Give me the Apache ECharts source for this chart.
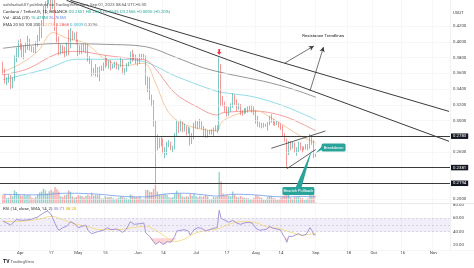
<!DOCTYPE html>
<html><head><meta charset="utf-8">
<script src="https://cdn.jsdelivr.net/npm/echarts@6/dist/echarts.min.js"></script>
<style>html,body{margin:0;padding:0;background:#fff}#c{width:474px;height:268px}</style>
</head><body><div id="c"></div><script>
// ---- time scale: one category per calendar day, Mar 22 .. Nov 9 2023 ----
const days = [];
for (let t = Date.UTC(2023, 2, 22); days.length < 233; t += 864e5) days.push(new Date(t).toISOString().slice(0, 10));

// time-axis labels
const tickLabels = {
  '2023-04-01': 'Apr', '2023-04-17': '17', '2023-05-01': 'May', '2023-05-15': '15',
  '2023-06-01': 'Jun', '2023-06-14': '14', '2023-07-01': 'Jul', '2023-07-17': '17',
  '2023-08-01': 'Aug', '2023-08-14': '14', '2023-09-01': 'Sep', '2023-09-18': '18',
  '2023-10-01': 'Oct', '2023-10-16': '16', '2023-11-01': 'Nov'
};
const priceTicks = [0.20, 0.22, 0.24, 0.26, 0.28, 0.30, 0.32, 0.34, 0.36, 0.38, 0.40, 0.42];
const rsiTicks = [20, 40, 60, 80];
const rsiBand = [60, 40];

// ADA/USDT daily candles: [date, open, close, low, high]
const candles = [
 ['2023-03-23',0.372,0.362,0.358,0.375],['2023-03-24',0.362,0.350,0.347,0.366],['2023-03-25',0.350,0.351,0.345,0.355],
 ['2023-03-26',0.351,0.356,0.348,0.359],['2023-03-27',0.356,0.345,0.340,0.358],['2023-03-28',0.345,0.352,0.341,0.355],
 ['2023-03-29',0.352,0.380,0.350,0.383],['2023-03-30',0.380,0.386,0.374,0.393],['2023-03-31',0.386,0.398,0.380,0.402],
 ['2023-04-01',0.398,0.395,0.390,0.404],['2023-04-02',0.395,0.384,0.380,0.398],['2023-04-03',0.384,0.392,0.378,0.396],
 ['2023-04-04',0.392,0.395,0.386,0.399],['2023-04-05',0.395,0.402,0.390,0.408],['2023-04-06',0.402,0.392,0.389,0.404],
 ['2023-04-07',0.392,0.391,0.387,0.395],['2023-04-08',0.391,0.389,0.386,0.394],['2023-04-09',0.389,0.398,0.386,0.401],
 ['2023-04-10',0.398,0.405,0.394,0.409],['2023-04-11',0.405,0.414,0.401,0.420],['2023-04-12',0.414,0.424,0.405,0.428],
 ['2023-04-13',0.424,0.442,0.420,0.446],['2023-04-14',0.442,0.447,0.436,0.452],['2023-04-15',0.447,0.452,0.443,0.456],
 ['2023-04-16',0.452,0.463,0.448,0.468],['2023-04-17',0.463,0.445,0.440,0.465],['2023-04-18',0.445,0.456,0.442,0.460],
 ['2023-04-19',0.456,0.418,0.414,0.458],['2023-04-20',0.418,0.403,0.399,0.422],['2023-04-21',0.403,0.387,0.383,0.407],
 ['2023-04-22',0.387,0.394,0.384,0.397],['2023-04-23',0.394,0.389,0.385,0.396],['2023-04-24',0.389,0.386,0.380,0.394],
 ['2023-04-25',0.386,0.397,0.382,0.400],['2023-04-26',0.397,0.396,0.383,0.416],['2023-04-27',0.396,0.412,0.392,0.418],
 ['2023-04-28',0.412,0.406,0.402,0.414],['2023-04-29',0.406,0.409,0.403,0.412],['2023-04-30',0.409,0.400,0.397,0.413],
 ['2023-05-01',0.400,0.387,0.382,0.403],['2023-05-02',0.387,0.394,0.384,0.396],['2023-05-03',0.394,0.392,0.385,0.397],
 ['2023-05-04',0.392,0.390,0.387,0.398],['2023-05-05',0.390,0.397,0.386,0.400],['2023-05-06',0.397,0.378,0.375,0.398],
 ['2023-05-07',0.378,0.375,0.372,0.382],['2023-05-08',0.375,0.361,0.356,0.377],['2023-05-09',0.361,0.364,0.358,0.367],
 ['2023-05-10',0.364,0.367,0.356,0.372],['2023-05-11',0.367,0.361,0.355,0.368],['2023-05-12',0.361,0.367,0.350,0.369],
 ['2023-05-13',0.367,0.366,0.363,0.370],['2023-05-14',0.366,0.371,0.363,0.374],['2023-05-15',0.371,0.379,0.367,0.383],
 ['2023-05-16',0.379,0.372,0.369,0.380],['2023-05-17',0.372,0.375,0.366,0.377],['2023-05-18',0.375,0.367,0.364,0.377],
 ['2023-05-19',0.367,0.369,0.366,0.372],['2023-05-20',0.369,0.373,0.367,0.375],['2023-05-21',0.373,0.367,0.365,0.375],
 ['2023-05-22',0.367,0.369,0.364,0.371],['2023-05-23',0.369,0.377,0.368,0.380],['2023-05-24',0.377,0.363,0.359,0.378],
 ['2023-05-25',0.363,0.364,0.358,0.367],['2023-05-26',0.364,0.371,0.362,0.373],['2023-05-27',0.371,0.373,0.369,0.375],
 ['2023-05-28',0.373,0.386,0.372,0.388],['2023-05-29',0.386,0.379,0.375,0.390],['2023-05-30',0.379,0.382,0.377,0.385],
 ['2023-05-31',0.382,0.378,0.372,0.384],['2023-06-01',0.378,0.374,0.370,0.380],['2023-06-02',0.374,0.383,0.372,0.385],
 ['2023-06-03',0.383,0.380,0.378,0.385],['2023-06-04',0.380,0.381,0.378,0.385],['2023-06-05',0.381,0.349,0.345,0.383],
 ['2023-06-06',0.349,0.352,0.336,0.356],['2023-06-07',0.352,0.330,0.326,0.355],['2023-06-08',0.330,0.322,0.318,0.333],
 ['2023-06-09',0.322,0.297,0.292,0.326],['2023-06-10',0.297,0.268,0.219,0.300],['2023-06-11',0.268,0.276,0.262,0.282],
 ['2023-06-12',0.276,0.272,0.265,0.278],['2023-06-13',0.272,0.274,0.267,0.280],['2023-06-14',0.274,0.262,0.258,0.277],
 ['2023-06-15',0.262,0.262,0.252,0.266],['2023-06-16',0.262,0.270,0.256,0.273],['2023-06-17',0.270,0.271,0.266,0.275],
 ['2023-06-18',0.271,0.264,0.262,0.273],['2023-06-19',0.264,0.266,0.260,0.268],['2023-06-20',0.266,0.282,0.263,0.284],
 ['2023-06-21',0.282,0.293,0.279,0.300],['2023-06-22',0.293,0.289,0.284,0.298],['2023-06-23',0.289,0.297,0.286,0.301],
 ['2023-06-24',0.297,0.289,0.285,0.299],['2023-06-25',0.289,0.291,0.286,0.296],['2023-06-26',0.291,0.285,0.281,0.293],
 ['2023-06-27',0.285,0.290,0.283,0.292],['2023-06-28',0.290,0.272,0.268,0.291],['2023-06-29',0.272,0.281,0.270,0.284],
 ['2023-06-30',0.281,0.292,0.276,0.297],['2023-07-01',0.292,0.298,0.290,0.300],['2023-07-02',0.298,0.293,0.289,0.299],
 ['2023-07-03',0.293,0.297,0.290,0.302],['2023-07-04',0.297,0.292,0.289,0.299],['2023-07-05',0.292,0.283,0.280,0.293],
 ['2023-07-06',0.283,0.280,0.278,0.290],['2023-07-07',0.280,0.286,0.278,0.288],['2023-07-08',0.286,0.284,0.282,0.288],
 ['2023-07-09',0.284,0.286,0.282,0.289],['2023-07-10',0.286,0.289,0.280,0.291],['2023-07-11',0.289,0.291,0.286,0.294],
 ['2023-07-12',0.291,0.289,0.284,0.294],['2023-07-13',0.289,0.360,0.287,0.381],['2023-07-14',0.360,0.325,0.318,0.372],
 ['2023-07-15',0.325,0.322,0.318,0.331],['2023-07-16',0.322,0.316,0.311,0.324],['2023-07-17',0.316,0.312,0.305,0.318],
 ['2023-07-18',0.312,0.314,0.306,0.317],['2023-07-19',0.314,0.318,0.311,0.322],['2023-07-20',0.318,0.330,0.316,0.335],
 ['2023-07-21',0.330,0.325,0.320,0.333],['2023-07-22',0.325,0.316,0.312,0.327],['2023-07-23',0.316,0.320,0.314,0.322],
 ['2023-07-24',0.320,0.311,0.307,0.321],['2023-07-25',0.311,0.310,0.306,0.313],['2023-07-26',0.310,0.313,0.308,0.316],
 ['2023-07-27',0.313,0.312,0.309,0.316],['2023-07-28',0.312,0.315,0.310,0.318],['2023-07-29',0.315,0.317,0.313,0.319],
 ['2023-07-30',0.317,0.313,0.310,0.320],['2023-07-31',0.313,0.312,0.307,0.318],['2023-08-01',0.312,0.302,0.296,0.313],
 ['2023-08-02',0.302,0.296,0.292,0.306],['2023-08-03',0.296,0.294,0.291,0.298],['2023-08-04',0.294,0.293,0.290,0.297],
 ['2023-08-05',0.293,0.295,0.291,0.297],['2023-08-06',0.295,0.294,0.292,0.296],['2023-08-07',0.294,0.296,0.287,0.298],
 ['2023-08-08',0.296,0.303,0.294,0.306],['2023-08-09',0.303,0.300,0.297,0.308],['2023-08-10',0.300,0.297,0.294,0.302],
 ['2023-08-11',0.297,0.295,0.293,0.299],['2023-08-12',0.295,0.297,0.294,0.299],['2023-08-13',0.297,0.293,0.291,0.298],
 ['2023-08-14',0.293,0.292,0.288,0.296],['2023-08-15',0.292,0.281,0.279,0.294],['2023-08-16',0.281,0.275,0.273,0.284],
 ['2023-08-17',0.275,0.263,0.240,0.277],['2023-08-18',0.263,0.270,0.256,0.274],['2023-08-19',0.270,0.266,0.262,0.274],
 ['2023-08-20',0.266,0.270,0.264,0.273],['2023-08-21',0.270,0.262,0.259,0.272],['2023-08-22',0.262,0.263,0.255,0.266],
 ['2023-08-23',0.263,0.270,0.260,0.273],['2023-08-24',0.270,0.265,0.262,0.272],['2023-08-25',0.265,0.264,0.259,0.267],
 ['2023-08-26',0.264,0.265,0.262,0.267],['2023-08-27',0.265,0.268,0.263,0.270],['2023-08-28',0.268,0.267,0.262,0.270],
 ['2023-08-29',0.267,0.279,0.264,0.283],['2023-08-30',0.279,0.272,0.269,0.281],['2023-08-31',0.272,0.2551,0.252,0.275],
 ['2023-09-01',0.2551,0.2556,0.2535,0.2575]
];

// daily volume, millions of ADA (Mar 23 .. Sep 1)
const volumes = [
 380,420,250,260,390,330,620,540,450,
 380,330,420,370,390,380,260,220,310,430,520,560,700,620,470,580,650,560,780,690,560,330,290,380,420,620,560,330,260,300,
 380,370,340,280,350,420,330,500,360,400,380,420,230,220,330,280,300,310,230,200,220,260,330,310,260,230,200,420,370,290,300,
 270,330,200,210,640,650,560,540,700,900,560,420,380,420,450,400,280,260,300,480,600,480,460,320,280,330,310,450,360,480,
 330,280,360,300,330,400,330,190,200,290,270,300,1520,1050,470,380,420,350,330,560,420,300,270,340,280,260,240,230,180,190,260,
 380,360,280,240,170,160,300,360,330,250,220,160,170,260,330,380,750,480,260,200,300,280,300,260,240,150,170,230,560,380,420,
 25
];
// 20-day volume average
const volAvg = [['2023-03-23',430],['2023-04-10',400],['2023-04-25',480],['2023-05-10',440],['2023-05-25',320],['2023-06-05',300],
 ['2023-06-15',440],['2023-06-25',480],['2023-07-05',400],['2023-07-12',340],['2023-07-20',430],['2023-07-31',400],
 ['2023-08-10',320],['2023-08-17',300],['2023-08-25',320],['2023-09-01',300]];

// exponential moving averages
const ema20 = [['2023-03-23',0.362],['2023-04-01',0.372],['2023-04-10',0.388],['2023-04-18',0.412],['2023-04-25',0.405],
 ['2023-05-05',0.398],['2023-05-15',0.378],['2023-05-25',0.370],['2023-06-04',0.373],['2023-06-10',0.348],['2023-06-15',0.318],
 ['2023-06-20',0.302],['2023-06-30',0.291],['2023-07-12',0.287],['2023-07-14',0.297],['2023-07-20',0.306],['2023-07-31',0.313],
 ['2023-08-10',0.302],['2023-08-17',0.291],['2023-08-25',0.279],['2023-09-01',0.2715]];
const ema50 = [['2023-03-23',0.358],['2023-04-05',0.366],['2023-04-20',0.385],['2023-05-01',0.388],['2023-05-15',0.383],
 ['2023-06-01',0.378],['2023-06-05',0.377],['2023-06-10',0.366],['2023-06-20',0.335],['2023-07-01',0.318],['2023-07-12',0.307],
 ['2023-07-15',0.310],['2023-07-31',0.312],['2023-08-16',0.305],['2023-09-01',0.2868]];
const ema100 = [['2023-03-23',0.352],['2023-04-15',0.366],['2023-04-30',0.378],['2023-05-20',0.378],['2023-06-04',0.375],
 ['2023-06-20',0.357],['2023-07-12',0.337],['2023-07-20',0.334],['2023-07-31',0.330],['2023-08-16',0.318],['2023-09-01',0.3009]];
const ema200 = [['2023-03-23',0.392],['2023-04-20',0.398],['2023-05-15',0.397],['2023-06-05',0.394],['2023-06-20',0.381],
 ['2023-07-05',0.367],['2023-07-20',0.358],['2023-08-05',0.350],['2023-08-20',0.340],['2023-09-01',0.3296]];

// RSI(14) and its 14-day SMA
const rsi = [['2023-03-23',56],['2023-03-27',50],['2023-03-30',58],['2023-04-02',57],['2023-04-06',58],['2023-04-10',62],
 ['2023-04-13',68],['2023-04-15',71],['2023-04-16',73],['2023-04-17',66],['2023-04-18',69],['2023-04-19',52],['2023-04-20',46],
 ['2023-04-21',42],['2023-04-23',46],['2023-04-25',48],['2023-04-27',55],['2023-04-29',52],['2023-05-01',46],['2023-05-03',48],
 ['2023-05-05',50],['2023-05-06',42],['2023-05-08',37],['2023-05-11',40],['2023-05-14',42],['2023-05-16',46],['2023-05-18',43],
 ['2023-05-21',44],['2023-05-24',39],['2023-05-26',44],['2023-05-28',55],['2023-05-30',51],['2023-06-02',52],['2023-06-04',53],
 ['2023-06-05',38],['2023-06-07',33],['2023-06-09',25],['2023-06-10',21],['2023-06-12',25],['2023-06-14',21],['2023-06-15',20],
 ['2023-06-16',25],['2023-06-18',24],['2023-06-20',33],['2023-06-21',41],['2023-06-23',42],['2023-06-25',43],['2023-06-27',41],
 ['2023-06-28',35],['2023-06-30',43],['2023-07-02',46],['2023-07-04',45],['2023-07-06',41],['2023-07-08',43],['2023-07-10',45],
 ['2023-07-12',46],['2023-07-13',72],['2023-07-14',60],['2023-07-16',57],['2023-07-18',54],['2023-07-20',57],['2023-07-22',53],
 ['2023-07-24',51],['2023-07-26',53],['2023-07-28',54],['2023-07-30',53],['2023-08-01',45],['2023-08-03',42],['2023-08-05',43],
 ['2023-08-07',44],['2023-08-08',48],['2023-08-10',45],['2023-08-12',44],['2023-08-14',42],['2023-08-15',35],['2023-08-16',31],
 ['2023-08-17',24],['2023-08-18',33],['2023-08-20',33],['2023-08-21',30],['2023-08-23',37],['2023-08-25',34],['2023-08-27',36],
 ['2023-08-28',35],['2023-08-29',46],['2023-08-30',42],['2023-08-31',35],['2023-09-01',35.7]];
const rsiMa = [['2023-03-23',55],['2023-04-03',56],['2023-04-11',59],['2023-04-17',63],['2023-04-23',58],['2023-04-29',52],
 ['2023-05-05',48],['2023-05-13',43],['2023-05-21',43],['2023-05-29',46],['2023-06-05',48],['2023-06-10',42],['2023-06-15',33],
 ['2023-06-20',25],['2023-06-25',29],['2023-06-30',37],['2023-07-06',42],['2023-07-12',44],['2023-07-17',50],['2023-07-24',55],
 ['2023-07-31',54],['2023-08-07',47],['2023-08-14',44],['2023-08-19',39],['2023-08-25',35],['2023-09-01',38]];

// horizontal support / resistance levels and last traded price
const levels = [0.2783, 0.2381, 0.2194];
const lastPrice = 0.2556;
// drawn trendlines [start, end] as [date, price]
const resistanceUpper = [['2023-04-27', 0.4530], ['2023-11-09', 0.3116]];
const resistanceLower = [['2023-04-25', 0.4530], ['2023-11-09', 0.2735]];
const wedgeUpper = [['2023-08-09', 0.2646], ['2023-09-06', 0.2866]];
const wedgeLower = [['2023-08-17', 0.2385], ['2023-09-01', 0.2631]];
const breakoutArrows = [[['2023-08-16', 0.3732], ['2023-08-31', 0.3950]], [['2023-08-29', 0.3376], ['2023-09-05', 0.3936]]];

const UP = '#26a69a', DOWN = '#ef5350', FONT = 'Roboto, "Liberation Sans", sans-serif', FS = 4.3;
const isLabelDay = (i, v) => tickLabels[v] !== undefined;

const chart = echarts.init(document.getElementById('c'));
const volData = candles.map((c, i) => ({ value: [c[0], volumes[i]], itemStyle: { color: c[2] >= c[1] ? 'rgba(38,166,154,0.5)' : 'rgba(239,83,80,0.5)' } }));
const clampLow = rsi.map(p => [p[0], Math.min(p[1], 30)]);
const fillLow = rsi.map(p => [p[0], 30 - Math.min(p[1], 30)]);
const baseHigh = rsi.map(p => [p[0], 70]);
const fillHigh = rsi.map(p => [p[0], Math.max(p[1], 70) - 70]);

const seg = (pair, style) => [{ coord: pair[0], symbol: 'none' }, { coord: pair[1], symbol: 'none', lineStyle: style }];
const lineSeries = (data, color, w) => ({ type: 'line', data, xAxisIndex: 0, yAxisIndex: 0, showSymbol: false, smooth: 0.35,
  lineStyle: { color, width: w }, silent: true, z: 2 });

const xBase = (gi, showLabel) => ({
  type: 'category', data: days, gridIndex: gi, boundaryGap: true,
  axisLine: { show: false }, axisTick: { show: false },
  axisLabel: showLabel ? { show: true, interval: isLabelDay, formatter: v => tickLabels[v] || '', fontSize: FS, color: '#444', fontFamily: FONT, margin: 1 } : { show: false },
  splitLine: { show: gi !== 1, interval: isLabelDay, lineStyle: { color: '#f1f1f1', width: 0.6 } }
});

chart.setOption({
  animation: false,
  backgroundColor: '#ffffff',
  grid: [
    { left: 0, right: 24, top: 0, height: 203 },
    { left: 0, right: 24, top: 150, height: 53 },
    { left: 0, right: 24, top: 203, height: 47 }
  ],
  xAxis: [xBase(0, false), xBase(1, false), xBase(2, true)],
  yAxis: [
    { gridIndex: 0, position: 'right', min: 0.1949, max: 0.4535, axisLine: { show: false }, axisTick: { show: false },
      axisLabel: { customValues: priceTicks, formatter: v => v.toFixed(4), fontSize: FS, color: '#444', fontFamily: FONT, margin: 3 },
      splitLine: { show: false } },
    { gridIndex: 1, min: 0, max: 2600, show: false },
    { gridIndex: 2, position: 'right', min: 12.5, max: 83, axisLine: { show: false }, axisTick: { show: false },
      axisLabel: { customValues: rsiTicks, formatter: v => v.toFixed(2), fontSize: FS, color: '#444', fontFamily: FONT, margin: 3 },
      splitLine: { show: false } }
  ],
  series: [
    // faint horizontal price grid
    { type: 'line', data: [], xAxisIndex: 0, yAxisIndex: 0, silent: true, z: 0,
      markLine: { silent: true, symbol: 'none', label: { show: false }, lineStyle: { color: '#f1f1f1', width: 0.6, type: 'solid' },
        data: priceTicks.map(v => ({ yAxis: v })) } },
    { type: 'bar', data: volData, xAxisIndex: 1, yAxisIndex: 1, barWidth: '72%', silent: true, z: 1 },
    { type: 'line', data: volAvg, xAxisIndex: 1, yAxisIndex: 1, showSymbol: false, smooth: 0.4, silent: true,
      lineStyle: { color: '#6f9be8', width: 0.8 }, z: 2 },
    lineSeries(ema200, '#8a8a8a', 0.9),
    lineSeries(ema100, '#86d8e6', 0.9),
    lineSeries(ema50, '#f39595', 0.9),
    lineSeries(ema20, '#f6c293', 0.9),
    {
      type: 'candlestick', data: candles, encode: { x: 0, y: [1, 2, 3, 4] }, xAxisIndex: 0, yAxisIndex: 0,
      barWidth: '66%', silent: true, z: 3,
      itemStyle: { color: UP, color0: DOWN, borderColor: UP, borderColor0: DOWN, borderWidth: 0.6 },
      markPoint: { silent: true, data: [{ coord: ['2023-07-13', 0.381], symbol: 'path://M3,0 L7,0 L7,6 L10,6 L5,12 L0,6 L3,6 Z',
        symbolSize: [4.5, 6], symbolOffset: [0, -5], itemStyle: { color: '#f23645' }, label: { show: false } }] },
      markLine: {
        silent: true, symbol: 'none', animation: false,
        data: [
          ...levels.map(v => ({ yAxis: v, lineStyle: { color: '#3a3a3a', width: 1.2, type: 'solid' },
            label: { show: true, position: 'end', formatter: v.toFixed(4), color: '#fff', backgroundColor: '#131722',
              fontSize: FS, fontFamily: FONT, padding: [1, 2, 0.5, 2], distance: 1 } })),
          { yAxis: lastPrice, lineStyle: { opacity: 0 },
            label: { show: true, position: 'end', formatter: lastPrice.toFixed(4) + '\n04:35:40', color: '#fff', backgroundColor: UP,
              fontSize: 4, lineHeight: 4.6, fontFamily: FONT, padding: [1, 2, 0.5, 2], distance: 1 } },
          seg(resistanceUpper, { color: '#3a3a3a', width: 1, type: 'solid' }),
          seg(resistanceLower, { color: '#3a3a3a', width: 1, type: 'solid' }),
          seg(wedgeUpper, { color: '#3a3a3a', width: 0.8, type: 'solid' }),
          seg(wedgeLower, { color: '#3a3a3a', width: 0.8, type: 'solid' }),
          ...breakoutArrows.map(a => [{ coord: a[0], symbol: 'none' }, { coord: a[1], symbol: 'arrow', symbolSize: [4, 5],
            lineStyle: { color: '#3a3a3a', width: 0.7, type: 'solid' } }])
        ].map(d => Array.isArray(d) ? d.map(p => Object.assign({ label: { show: false } }, p)) : d)
      }
    },
    // RSI pane
    { type: 'line', data: rsi.map(p => [p[0], 50]), xAxisIndex: 2, yAxisIndex: 2, showSymbol: false, silent: true,
      lineStyle: { opacity: 0 },
      markArea: { silent: true, itemStyle: { color: 'rgba(126,87,194,0.1)' }, data: [[{ yAxis: rsiBand[0] }, { yAxis: rsiBand[1] }]] },
      markLine: { silent: true, symbol: 'none', label: { show: false },
        lineStyle: { color: '#b8b8c8', width: 0.5, type: [2, 2] }, data: [{ yAxis: rsiBand[0] }, { yAxis: 50 }, { yAxis: rsiBand[1] }] } },
    { type: 'line', data: clampLow, xAxisIndex: 2, yAxisIndex: 2, stack: 'os', showSymbol: false, silent: true, lineStyle: { opacity: 0 } },
    { type: 'line', data: fillLow, xAxisIndex: 2, yAxisIndex: 2, stack: 'os', showSymbol: false, silent: true, lineStyle: { opacity: 0 },
      areaStyle: { color: 'rgba(239,83,80,0.35)' } },
    { type: 'line', data: baseHigh, xAxisIndex: 2, yAxisIndex: 2, stack: 'ob', showSymbol: false, silent: true, lineStyle: { opacity: 0 } },
    { type: 'line', data: fillHigh, xAxisIndex: 2, yAxisIndex: 2, stack: 'ob', showSymbol: false, silent: true, lineStyle: { opacity: 0 },
      areaStyle: { color: 'rgba(38,166,154,0.3)' } },
    { type: 'line', data: rsiMa, xAxisIndex: 2, yAxisIndex: 2, showSymbol: false, smooth: 0.4, silent: true,
      lineStyle: { color: '#f5d76e', width: 0.8 } },
    { type: 'line', data: rsi, xAxisIndex: 2, yAxisIndex: 2, showSymbol: false, silent: true,
      lineStyle: { color: '#8f7fd0', width: 0.8 } }
  ]
});

// ---- text overlays: header, legends, callouts ----
const px = (d, p) => chart.convertToPixel({ xAxisIndex: 0, yAxisIndex: 0 }, [d, p]);
const T = (x, y, text, rich, extra) => Object.assign({ type: 'text', x, y, silent: true, z: 50,
  style: { text, fontSize: FS, fontFamily: FONT, fill: '#333', rich } }, extra || {});

const bdA = px('2023-09-04', 0.2655), bdT = px('2023-09-01', 0.2585);
const pbC = px('2023-08-23', 0.2102), pbT = px('2023-08-30', 0.2628);
const rtA = px('2023-08-25', 0.4070);

chart.setOption({ graphic: [
  T(3, 2.5, '', null, { style: { text: 'sahilsahu607 published on TradingView.com, Sep 01, 2023 08:54 UTC+5:30', fontSize: FS, fontFamily: FONT, fill: '#555' } }),
  T(3, 9.5, '{t|Cardano / TetherUS, 1D, BINANCE} {v|O0.2551 H0.2575 L0.2535 C0.2556 +0.0005 (+0.20%)}',
    { t: { fill: '#333', fontSize: FS, fontFamily: FONT }, v: { fill: UP, fontSize: FS, fontFamily: FONT } }),
  T(3, 16, '{t|Vol · ADA (20)} {v|15.475M} {m|76.765M}',
    { t: { fill: '#333', fontSize: FS, fontFamily: FONT }, v: { fill: UP, fontSize: FS, fontFamily: FONT }, m: { fill: '#5b8def', fontSize: FS, fontFamily: FONT } }),
  T(3, 22.5, '{t|EMA 20 50 100 200} {a|0.2715} {b|0.2868} {c|0.3009} {d|0.3296}',
    { t: { fill: '#333', fontSize: FS, fontFamily: FONT }, a: { fill: '#f0a060', fontSize: FS, fontFamily: FONT },
      b: { fill: '#ef5350', fontSize: FS, fontFamily: FONT }, c: { fill: '#2bb3cc', fontSize: FS, fontFamily: FONT }, d: { fill: '#707070', fontSize: FS, fontFamily: FONT } }),
  T(3, 206.5, '{t|RSI (14, close, SMA, 14, 2)} {a|35.71} {b|38.20}',
    { t: { fill: '#333', fontSize: FS, fontFamily: FONT }, a: { fill: '#7e57c2', fontSize: FS, fontFamily: FONT }, b: { fill: '#e0b000', fontSize: FS, fontFamily: FONT } }),
  T(453, 10.5, '', null, { style: { text: 'USDT', fontSize: FS, fontFamily: FONT, fill: '#444' } }),
  // pane separators
  { type: 'line', silent: true, z: 40, shape: { x1: 0, y1: 203.5, x2: 474, y2: 203.5 }, style: { stroke: '#e2e4ea', lineWidth: 0.8 } },
  { type: 'line', silent: true, z: 40, shape: { x1: 450.5, y1: 0, x2: 450.5, y2: 250 }, style: { stroke: '#eeeeee', lineWidth: 0.6 } },
  { type: 'line', silent: true, z: 40, shape: { x1: 0, y1: 250.5, x2: 474, y2: 250.5 }, style: { stroke: '#eeeeee', lineWidth: 0.6 } },
  // Resistance Trendlines label
  T(rtA[0], rtA[1] - 2.5, '', null, { style: { text: 'Resistance Trendlines', fontSize: FS, fontFamily: FONT, fill: '#222' } }),
  // Breakdown callout
  { type: 'polygon', silent: true, z: 45, shape: { points: [[bdT[0], bdT[1]], [bdA[0] + 1, bdA[1] - 2], [bdA[0] + 1, bdA[1] + 2]] }, style: { fill: '#2aa39b' } },
  { type: 'rect', silent: true, z: 45, shape: { x: bdA[0], y: bdA[1] - 4, width: 24, height: 8, r: 1.5 }, style: { fill: '#2aa39b' } },
  T(bdA[0] + 12, bdA[1], '', null, { style: { text: 'Breakdown', fontSize: 4, fontFamily: FONT, fill: '#fff', align: 'center', verticalAlign: 'middle' }, z: 46 }),
  // Bearish Pullback callout
  { type: 'polygon', silent: true, z: 45, shape: { points: [[pbT[0], pbT[1]], [pbC[0] - 3, pbC[1] - 3], [pbC[0] + 3, pbC[1] - 3]] }, style: { fill: '#2aa39b' } },
  { type: 'rect', silent: true, z: 45, shape: { x: pbC[0] - 16, y: pbC[1] - 4, width: 32, height: 8, r: 1.5 }, style: { fill: '#2aa39b' } },
  T(pbC[0], pbC[1], '', null, { style: { text: 'Bearish Pullback', fontSize: 4, fontFamily: FONT, fill: '#fff', align: 'center', verticalAlign: 'middle' }, z: 46 }),
  // footer logo
  T(3, 259.5, '{b|TV} {t|TradingView}', { b: { fill: '#131722', fontSize: 5, fontWeight: 'bold', fontFamily: FONT }, t: { fill: '#555', fontSize: FS, fontFamily: FONT } })
] });
</script></body></html>
